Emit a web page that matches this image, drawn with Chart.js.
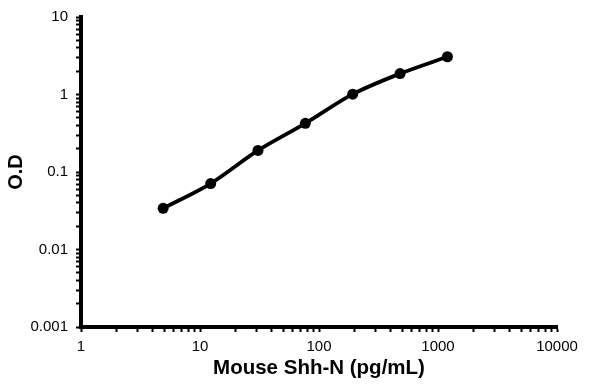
<!DOCTYPE html>
<html><head><meta charset="utf-8">
<script src="https://cdn.jsdelivr.net/npm/chart.js@4.4.1/dist/chart.umd.min.js"></script>
<style>html,body{margin:0;padding:0;background:#fff}</style>
</head><body>
<canvas id="c" width="600" height="386"></canvas>
<script>
const concentrations = [4.9, 12.3, 30.7, 76.8, 192, 480, 1200];
const odValues = [0.034, 0.071, 0.19, 0.425, 1.01, 1.86, 3.07];
const xTickLabels = ['1', '10', '100', '1000', '10000'];
const yTickLabels = ['0.001', '0.01', '0.1', '1', '10'];
const xTitle = 'Mouse Shh-N (pg/mL)';
const yTitle = 'O.D';

function logTicks(labels) {
  const ticks = [];
  labels.forEach((l, i) => {
    const base = parseFloat(l);
    ticks.push({ value: base, major: true });
    if (i < labels.length - 1) {
      for (let m = 2; m <= 9; m++) ticks.push({ value: base * m, major: false });
    }
  });
  return ticks;
}
function labelFor(labels) {
  return function (value) {
    for (const l of labels) {
      const v = parseFloat(l);
      if (Math.abs(value - v) / v < 1e-6) return l;
    }
    return '';
  };
}

const FONT = "'Liberation Sans', Arial, sans-serif";
const points = concentrations.map((x, i) => ({ x: x, y: odValues[i] }));

new Chart(document.getElementById('c'), {
  type: 'line',
  data: {
    datasets: [{
      data: points,
      borderColor: '#000',
      backgroundColor: '#000',
      borderWidth: 3.8,
      pointRadius: 5.5,
      pointBackgroundColor: '#000',
      pointBorderColor: '#000',
      pointBorderWidth: 0,
      tension: 0.3,
      fill: false
    }]
  },
  options: {
    responsive: false,
    animation: false,
    layout: { padding: { top: 15, right: 43, left: 0, bottom: 0 } },
    plugins: { legend: { display: false }, tooltip: { enabled: false } },
    scales: {
      x: {
        type: 'logarithmic',
        min: 1, max: 10000,
        afterBuildTicks: s => { s.ticks = logTicks(xTickLabels); },
        afterFit: s => { s.height = 59; },
        border: { display: true, color: '#000', width: 4 },
        grid: { drawOnChartArea: false, drawTicks: true, tickLength: 5, color: '#000', tickWidth: 2 },
        ticks: {
          autoSkip: false, maxRotation: 0, minRotation: 0, padding: 6,
          color: '#000', font: { family: FONT, size: 15 },
          callback: labelFor(xTickLabels)
        },
        title: {
          display: true, text: xTitle, color: '#000',
          font: { family: FONT, size: 20.5, weight: 'bold' },
          padding: { top: 0, bottom: 5 }
        }
      },
      y: {
        type: 'logarithmic',
        min: 0.001, max: 10,
        afterBuildTicks: s => { s.ticks = logTicks(yTickLabels); },
        afterFit: s => { s.width = 81; },
        border: { display: true, color: '#000', width: 4 },
        grid: { drawOnChartArea: false, drawTicks: true, tickLength: 5, color: '#000', tickWidth: 2 },
        ticks: {
          autoSkip: false, padding: 8,
          color: '#000', font: { family: FONT, size: 15 },
          callback: labelFor(yTickLabels)
        },
        title: {
          display: true, text: yTitle, color: '#000',
          font: { family: FONT, size: 20, weight: 'bold' },
          padding: { top: 4, bottom: 0 }
        }
      }
    }
  }
});
</script>
</body></html>
